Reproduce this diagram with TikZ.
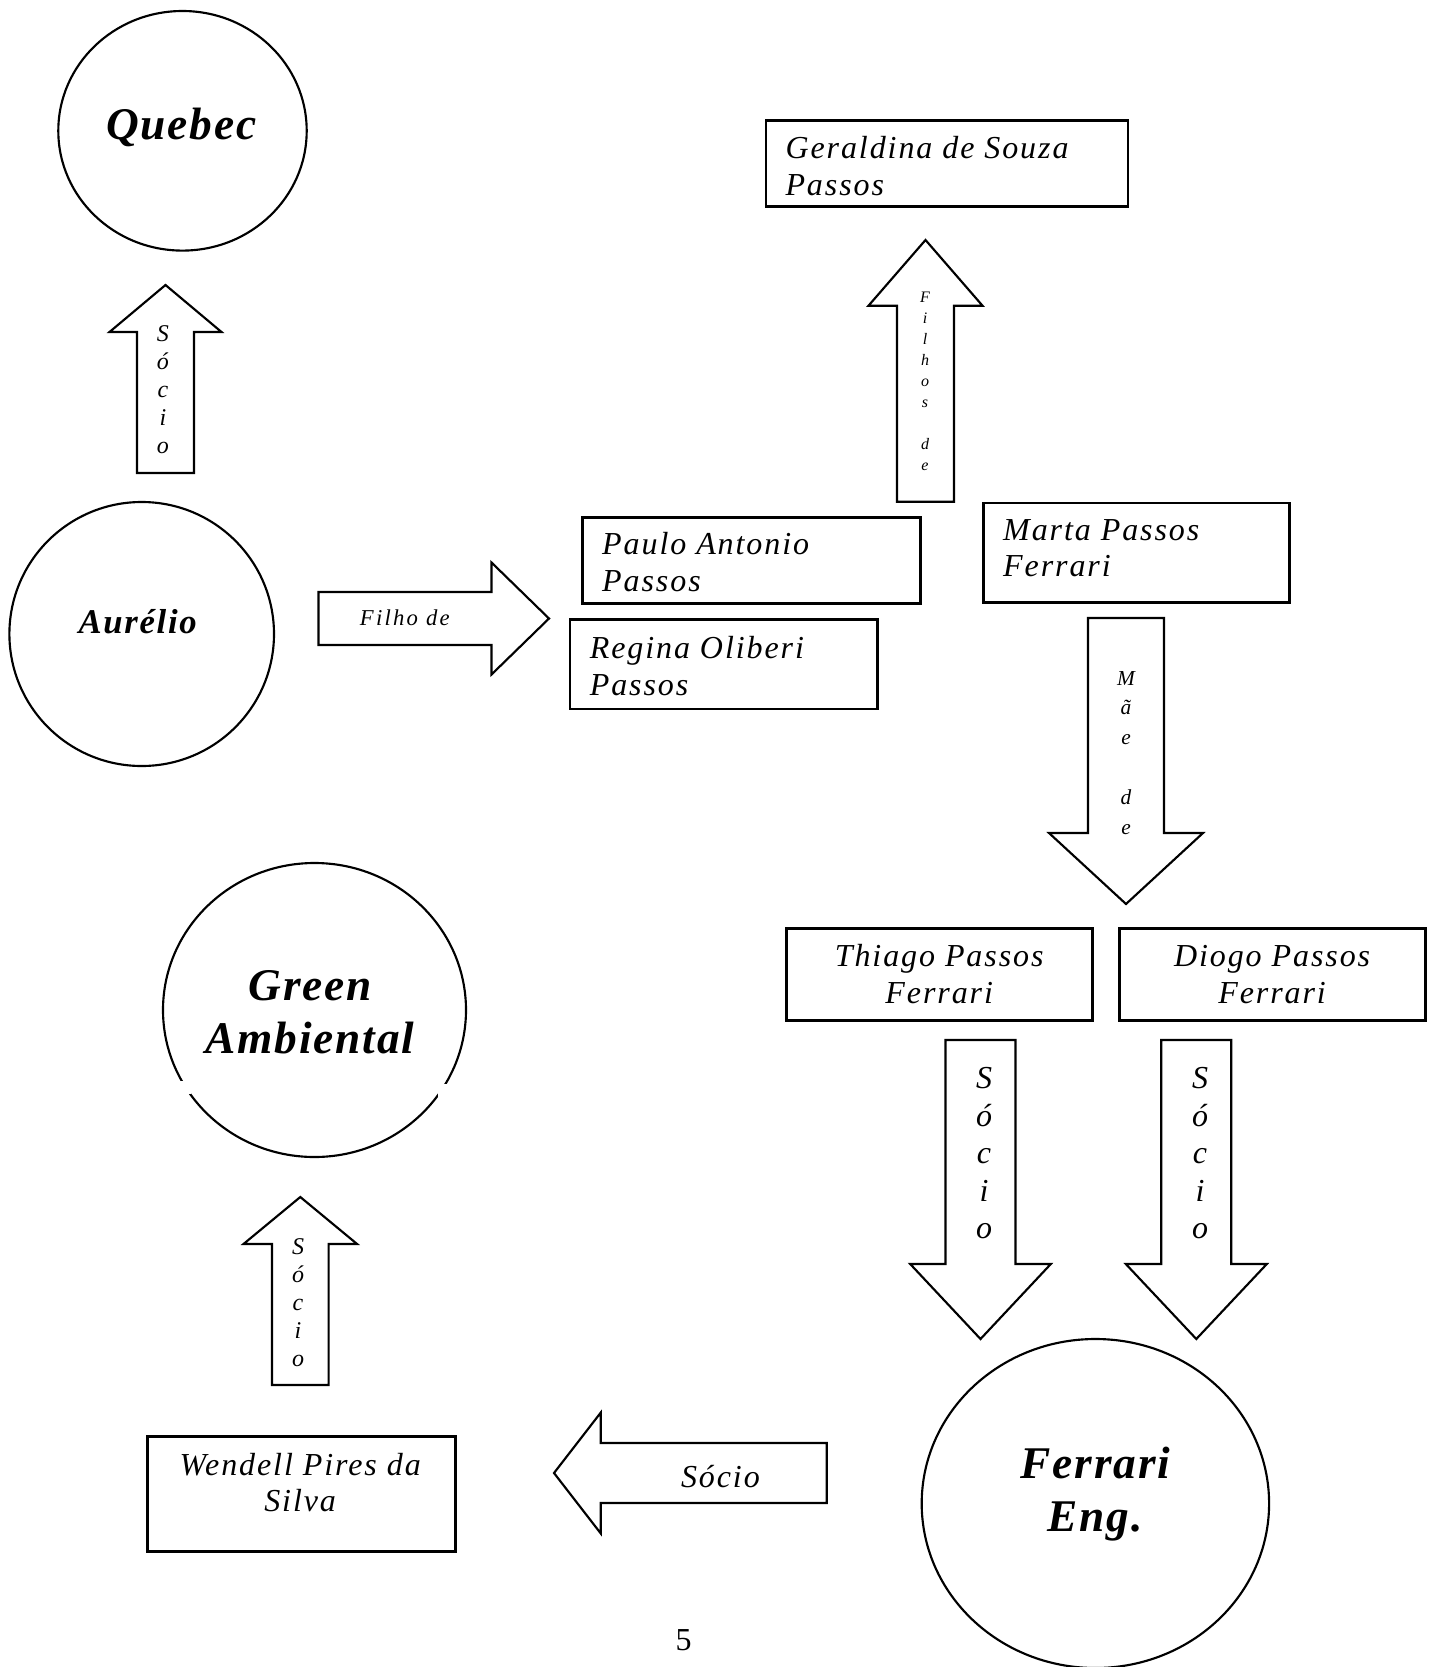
\documentclass[tikz,border=0pt]{standalone}
\usepackage{fontspec}
\setmainfont{Liberation Serif}
\usetikzlibrary{shapes.geometric}

\newlength{\pxu}
\setlength{\pxu}{0.375pt}

\newcommand{\setav}[6]{%
  \draw[seta] (#1-#5,#2) -- (#1-#5,#3) -- (#1-#6,#3) -- (#1,#4)
    -- (#1+#6,#3) -- (#1+#5,#3) -- (#1+#5,#2) -- cycle;}
\newcommand{\setah}[6]{%
  \draw[seta] (#2,#1-#5) -- (#3,#1-#5) -- (#3,#1-#6) -- (#4,#1)
    -- (#3,#1+#6) -- (#3,#1+#5) -- (#2,#1+#5) -- cycle;}
\newcommand{\pilha}[1]{\parbox[t]{40\pxu}{\centering #1}}
\newcommand{\linhas}[1]{\parbox[t]{330\pxu}{\raggedright #1}}
\newcommand{\linhasc}[1]{\parbox[t]{300\pxu}{\centering #1}}

\begin{document}
\begin{tikzpicture}[x=0.375pt,y=-0.375pt,
  empresa/.style={ellipse,draw,line width=0.8pt,inner sep=0pt},
  pessoa/.style={rectangle,draw,line width=1.1pt,inner sep=0pt,anchor=north west},
  seta/.style={draw,line width=0.8pt,line join=miter},
  nomeemp/.style={inner sep=0pt,anchor=base,
    font=\fontsize{17}{20.1}\selectfont\bfseries\itshape\addfontfeatures{LetterSpace=4}},
  nomep/.style={inner sep=0pt,
    font=\fontsize{12}{13.8}\selectfont\itshape\addfontfeatures{LetterSpace=6}},
  rotulo/.style 2 args={inner sep=0pt,anchor=base,font=\fontsize{#1}{#2}\selectfont\itshape}]
  \useasboundingbox (0,0) rectangle (1434,1667);

  \node[empresa,minimum width=248.4*\pxu,minimum height=239.6*\pxu] (quebec) at (182.5,130.8) {};
  \node[nomeemp] (quebec-t) at ([shift={(-1,9)}]quebec.center) {Quebec};
  \node[empresa,minimum width=264.6*\pxu,minimum height=264*\pxu] (aurelio) at (141.7,634) {};
  \node[nomeemp,font=\fontsize{13}{15}\selectfont\bfseries\itshape\addfontfeatures{LetterSpace=5}]
    (aurelio-t) at ([shift={(-4,-1)}]aurelio.center) {Aurélio};
  \node[empresa,minimum width=303*\pxu,minimum height=294*\pxu] (green) at (314.5,1010) {};
  \node[nomeemp] (green-t) at ([shift={(-4.5,-10)}]green.center) {\linhasc{Green\\Ambiental}};
  \fill[white] (180,1081) rectangle (191,1094);
  \fill[white] (438,1084) rectangle (449,1097);
  \node[empresa,minimum width=347.4*\pxu,minimum height=329*\pxu] (ferrari) at (1095.4,1503.5) {};
  \node[nomeemp] (ferrari-t) at ([shift={(0,-25.5)}]ferrari.center) {\linhasc{Ferrari\\Eng.}};

  \node[pessoa,minimum width=362*\pxu,minimum height=85.5*\pxu] (geraldina) at (764.5,119.3) {};
  \node[pessoa,minimum width=338.3*\pxu,minimum height=86*\pxu] (paulo) at (580.7,515.7) {};
  \node[pessoa,minimum width=307.3*\pxu,minimum height=89.2*\pxu] (regina) at (568.5,618.3) {};
  \node[pessoa,minimum width=305.8*\pxu,minimum height=99.5*\pxu] (marta) at (982,501.5) {};
  \node[pessoa,minimum width=306*\pxu,minimum height=91.7*\pxu] (thiago) at (784.7,927) {};
  \node[pessoa,minimum width=306*\pxu,minimum height=91.7*\pxu] (diogo) at (1117.6,927) {};
  \node[pessoa,minimum width=307.3*\pxu,minimum height=114.8*\pxu] (wendell) at (146.3,1435) {};

  \begin{scope}
    \clip (geraldina.north west) rectangle ([shift={(0,-12)}]geraldina.south east);
    \node[nomep,anchor=base west] (geraldina-t) at ([shift={(20.5,39.4)}]geraldina.north west)
      {\linhas{Geraldina de Souza\\Passos}};
  \end{scope}
  \begin{scope}
    \clip (paulo.north west) rectangle ([shift={(0,-13)}]paulo.south east);
    \node[nomep,anchor=base west] (paulo-t) at ([shift={(21,38.6)}]paulo.north west)
      {\linhas{Paulo Antonio\\Passos}};
  \end{scope}
  \node[nomep,anchor=base west] (regina-t) at ([shift={(20.8,40)}]regina.north west)
    {\linhas{Regina Oliberi\\Passos}};
  \node[nomep,anchor=base west] (marta-t) at ([shift={(20.7,38.5)}]marta.north west)
    {\linhas{Marta Passos\\Ferrari}};
  \node[nomep,anchor=base] (thiago-t) at ([shift={(0,39.7)}]thiago.north) {\linhasc{Thiago Passos\\Ferrari}};
  \node[nomep,anchor=base] (diogo-t) at ([shift={(0,39.7)}]diogo.north) {\linhasc{Diogo Passos\\Ferrari}};
  \node[nomep,anchor=base] (wendell-t) at ([shift={(-1.3,40)}]wendell.north) {\linhasc{Wendell Pires da\\Silva}};

  \setav{165.5}{473}{332}{285}{28.5}{56}
  \setav{925.5}{501.7}{305.7}{240}{28.5}{57}
  \setav{1126}{618}{833}{904}{38}{77}
  \setav{980.5}{1040}{1264}{1339}{35}{70.3}
  \setav{1196.3}{1040}{1264}{1339}{35}{70.5}
  \setav{300.3}{1385}{1244}{1197}{28.3}{56.8}
  \setah{618.5}{318.5}{491.5}{549}{26.5}{56}
  \setah{1473}{826.7}{600.8}{554}{30}{60.5}

  \node[rotulo={9}{10.5}] (socio-quebec) at (163,341) {\pilha{S\\ó\\c\\i\\o}};
  \node[rotulo={6}{7.9}] (filhos) at (925,302) {\pilha{F\\i\\l\\h\\o\\s\\~\\d\\e}};
  \node[rotulo={8}{11.2}] (mae) at (1126,685) {\pilha{M\\ã\\e\\~\\d\\e}};
  \node[rotulo={12}{14.06}] (socio-thiago) at (984,1088.6) {\pilha{S\\ó\\c\\i\\o}};
  \node[rotulo={12}{14.06}] (socio-diogo) at (1200,1088.6) {\pilha{S\\ó\\c\\i\\o}};
  \node[rotulo={9}{10.5}] (socio-green) at (298,1254) {\pilha{S\\ó\\c\\i\\o}};
  \node[inner sep=0pt,anchor=base,font=\fontsize{8.5}{10}\selectfont\itshape\addfontfeatures{LetterSpace=10}]
    (filho) at (404.8,625) {Filho de};
  \node[nomep,anchor=base] (socio-wendell) at (720.4,1487) {Sócio};
  \node[inner sep=0pt,anchor=base,font=\fontsize{12}{13.8}\selectfont] (pagina) at (683.7,1650) {5};
\end{tikzpicture}
\end{document}
